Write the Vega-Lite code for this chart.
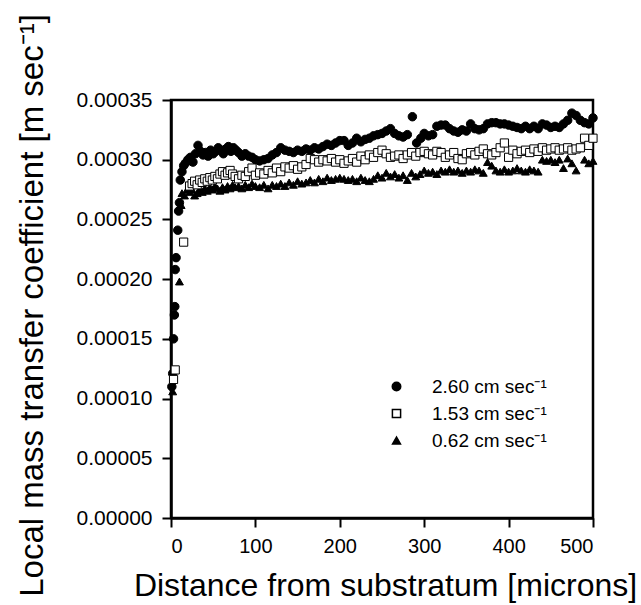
{
  "$schema": "https://vega.github.io/schema/vega-lite/v6.json",
  "width": 422,
  "height": 418,
  "autosize": {"type": "none"},
  "padding": {"left": 171, "top": 100, "right": 48, "bottom": 87},
  "background": "white",
  "config": {
    "font": "Liberation Sans",
    "view": {"stroke": "black", "strokeWidth": 2.5},
    "axis": {"grid": false, "domainColor": "black", "domainWidth": 2.5, "tickColor": "black", "tickWidth": 2, "tickSize": 9, "labelColor": "black", "titleColor": "black", "labelFont": "Liberation Sans", "titleFont": "Liberation Sans", "titleFontWeight": "normal", "labelFontSize": 20, "titleFontSize": 32},
    "legend": {"labelFont": "Liberation Sans", "labelColor": "black", "title": null, "orient": "none", "legendX": 216, "legendY": 277, "padding": 0, "labelFontSize": 19, "labelOffset": 26, "rowPadding": 7}
  },
  "data": {"values": [
    {"d":1,"k":0.000110,"v":"2.60"},{"d":2,"k":0.000121,"v":"2.60"},{"d":3,"k":0.000150,"v":"2.60"},{"d":4,"k":0.000170,"v":"2.60"},{"d":4.5,"k":0.000177,"v":"2.60"},{"d":5,"k":0.000208,"v":"2.60"},{"d":6,"k":0.000218,"v":"2.60"},{"d":8,"k":0.000241,"v":"2.60"},{"d":9,"k":0.000257,"v":"2.60"},{"d":10,"k":0.000264,"v":"2.60"},{"d":11,"k":0.000283,"v":"2.60"},{"d":13,"k":0.000290,"v":"2.60"},{"d":15,"k":0.000295,"v":"2.60"},{"d":17,"k":0.000297,"v":"2.60"},{"d":20,"k":0.000300,"v":"2.60"},{"d":23,"k":0.000302,"v":"2.60"},{"d":26,"k":0.000298,"v":"2.60"},{"d":29,"k":0.000305,"v":"2.60"},{"d":32,"k":0.000312,"v":"2.60"},{"d":35,"k":0.000307,"v":"2.60"},{"d":38,"k":0.000304,"v":"2.60"},{"d":41,"k":0.000306,"v":"2.60"},{"d":44,"k":0.000303,"v":"2.60"},{"d":47,"k":0.000308,"v":"2.60"},{"d":50,"k":0.000305,"v":"2.60"},{"d":53,"k":0.000307,"v":"2.60"},{"d":56,"k":0.000310,"v":"2.60"},{"d":59,"k":0.000308,"v":"2.60"},{"d":62,"k":0.000305,"v":"2.60"},{"d":65,"k":0.000309,"v":"2.60"},{"d":68,"k":0.000311,"v":"2.60"},{"d":71,"k":0.000307,"v":"2.60"},{"d":74,"k":0.000310,"v":"2.60"},{"d":77,"k":0.000308,"v":"2.60"},{"d":80,"k":0.000306,"v":"2.60"},{"d":84,"k":0.000303,"v":"2.60"},{"d":88,"k":0.000305,"v":"2.60"},{"d":92,"k":0.000303,"v":"2.60"},{"d":96,"k":0.000302,"v":"2.60"},{"d":100,"k":0.000300,"v":"2.60"},{"d":105,"k":0.000299,"v":"2.60"},{"d":110,"k":0.000300,"v":"2.60"},{"d":115,"k":0.000301,"v":"2.60"},{"d":120,"k":0.000304,"v":"2.60"},{"d":125,"k":0.000306,"v":"2.60"},{"d":130,"k":0.000310,"v":"2.60"},{"d":135,"k":0.000308,"v":"2.60"},{"d":140,"k":0.000307,"v":"2.60"},{"d":145,"k":0.000306,"v":"2.60"},{"d":150,"k":0.000308,"v":"2.60"},{"d":155,"k":0.000307,"v":"2.60"},{"d":160,"k":0.000309,"v":"2.60"},{"d":165,"k":0.000308,"v":"2.60"},{"d":170,"k":0.000310,"v":"2.60"},{"d":175,"k":0.000309,"v":"2.60"},{"d":180,"k":0.000311,"v":"2.60"},{"d":185,"k":0.000313,"v":"2.60"},{"d":190,"k":0.000312,"v":"2.60"},{"d":195,"k":0.000314,"v":"2.60"},{"d":200,"k":0.000316,"v":"2.60"},{"d":205,"k":0.000316,"v":"2.60"},{"d":210,"k":0.000312,"v":"2.60"},{"d":215,"k":0.000314,"v":"2.60"},{"d":220,"k":0.000318,"v":"2.60"},{"d":225,"k":0.000315,"v":"2.60"},{"d":230,"k":0.000317,"v":"2.60"},{"d":235,"k":0.000318,"v":"2.60"},{"d":240,"k":0.000320,"v":"2.60"},{"d":245,"k":0.000321,"v":"2.60"},{"d":250,"k":0.000322,"v":"2.60"},{"d":255,"k":0.000324,"v":"2.60"},{"d":260,"k":0.000326,"v":"2.60"},{"d":265,"k":0.000322,"v":"2.60"},{"d":270,"k":0.000320,"v":"2.60"},{"d":275,"k":0.000319,"v":"2.60"},{"d":280,"k":0.000321,"v":"2.60"},{"d":286,"k":0.000336,"v":"2.60"},{"d":291,"k":0.000314,"v":"2.60"},{"d":296,"k":0.000318,"v":"2.60"},{"d":300,"k":0.000322,"v":"2.60"},{"d":305,"k":0.000320,"v":"2.60"},{"d":310,"k":0.000321,"v":"2.60"},{"d":315,"k":0.000328,"v":"2.60"},{"d":320,"k":0.000329,"v":"2.60"},{"d":325,"k":0.000329,"v":"2.60"},{"d":330,"k":0.000326,"v":"2.60"},{"d":335,"k":0.000324,"v":"2.60"},{"d":340,"k":0.000323,"v":"2.60"},{"d":345,"k":0.000325,"v":"2.60"},{"d":350,"k":0.000324,"v":"2.60"},{"d":355,"k":0.000330,"v":"2.60"},{"d":360,"k":0.000326,"v":"2.60"},{"d":365,"k":0.000325,"v":"2.60"},{"d":370,"k":0.000326,"v":"2.60"},{"d":375,"k":0.000330,"v":"2.60"},{"d":380,"k":0.000331,"v":"2.60"},{"d":385,"k":0.000331,"v":"2.60"},{"d":390,"k":0.000330,"v":"2.60"},{"d":395,"k":0.000330,"v":"2.60"},{"d":400,"k":0.000329,"v":"2.60"},{"d":405,"k":0.000328,"v":"2.60"},{"d":410,"k":0.000327,"v":"2.60"},{"d":415,"k":0.000326,"v":"2.60"},{"d":420,"k":0.000328,"v":"2.60"},{"d":425,"k":0.000326,"v":"2.60"},{"d":430,"k":0.000328,"v":"2.60"},{"d":435,"k":0.000326,"v":"2.60"},{"d":440,"k":0.000330,"v":"2.60"},{"d":445,"k":0.000329,"v":"2.60"},{"d":450,"k":0.000327,"v":"2.60"},{"d":455,"k":0.000328,"v":"2.60"},{"d":460,"k":0.000327,"v":"2.60"},{"d":465,"k":0.000330,"v":"2.60"},{"d":470,"k":0.000333,"v":"2.60"},{"d":475,"k":0.000339,"v":"2.60"},{"d":480,"k":0.000337,"v":"2.60"},{"d":485,"k":0.000333,"v":"2.60"},{"d":490,"k":0.000331,"v":"2.60"},{"d":495,"k":0.000330,"v":"2.60"},{"d":500,"k":0.000335,"v":"2.60"},

    {"d":2,"k":0.000106,"v":"0.62"},{"d":10,"k":0.000198,"v":"0.62"},{"d":12,"k":0.000262,"v":"0.62"},{"d":13,"k":0.000272,"v":"0.62"},{"d":16,"k":0.000270,"v":"0.62"},{"d":19,"k":0.000275,"v":"0.62"},{"d":22,"k":0.000273,"v":"0.62"},{"d":25,"k":0.000275,"v":"0.62"},{"d":28,"k":0.000270,"v":"0.62"},{"d":31,"k":0.000272,"v":"0.62"},{"d":34,"k":0.000275,"v":"0.62"},{"d":37,"k":0.000273,"v":"0.62"},{"d":40,"k":0.000276,"v":"0.62"},{"d":43,"k":0.000274,"v":"0.62"},{"d":46,"k":0.000277,"v":"0.62"},{"d":49,"k":0.000275,"v":"0.62"},{"d":52,"k":0.000278,"v":"0.62"},{"d":55,"k":0.000276,"v":"0.62"},{"d":58,"k":0.000274,"v":"0.62"},{"d":61,"k":0.000277,"v":"0.62"},{"d":64,"k":0.000275,"v":"0.62"},{"d":67,"k":0.000278,"v":"0.62"},{"d":70,"k":0.000276,"v":"0.62"},{"d":73,"k":0.000279,"v":"0.62"},{"d":76,"k":0.000277,"v":"0.62"},{"d":80,"k":0.000278,"v":"0.62"},{"d":84,"k":0.000276,"v":"0.62"},{"d":88,"k":0.000279,"v":"0.62"},{"d":92,"k":0.000277,"v":"0.62"},{"d":96,"k":0.000280,"v":"0.62"},{"d":100,"k":0.000278,"v":"0.62"},{"d":105,"k":0.000277,"v":"0.62"},{"d":110,"k":0.000279,"v":"0.62"},{"d":115,"k":0.000276,"v":"0.62"},{"d":120,"k":0.000279,"v":"0.62"},{"d":125,"k":0.000278,"v":"0.62"},{"d":130,"k":0.000280,"v":"0.62"},{"d":135,"k":0.000278,"v":"0.62"},{"d":140,"k":0.000281,"v":"0.62"},{"d":145,"k":0.000279,"v":"0.62"},{"d":150,"k":0.000282,"v":"0.62"},{"d":155,"k":0.000280,"v":"0.62"},{"d":160,"k":0.000281,"v":"0.62"},{"d":165,"k":0.000283,"v":"0.62"},{"d":170,"k":0.000281,"v":"0.62"},{"d":175,"k":0.000284,"v":"0.62"},{"d":180,"k":0.000282,"v":"0.62"},{"d":185,"k":0.000285,"v":"0.62"},{"d":190,"k":0.000283,"v":"0.62"},{"d":195,"k":0.000284,"v":"0.62"},{"d":200,"k":0.000285,"v":"0.62"},{"d":205,"k":0.000284,"v":"0.62"},{"d":210,"k":0.000283,"v":"0.62"},{"d":215,"k":0.000284,"v":"0.62"},{"d":220,"k":0.000282,"v":"0.62"},{"d":225,"k":0.000285,"v":"0.62"},{"d":230,"k":0.000283,"v":"0.62"},{"d":235,"k":0.000282,"v":"0.62"},{"d":240,"k":0.000284,"v":"0.62"},{"d":245,"k":0.000287,"v":"0.62"},{"d":250,"k":0.000285,"v":"0.62"},{"d":255,"k":0.000289,"v":"0.62"},{"d":260,"k":0.000286,"v":"0.62"},{"d":265,"k":0.000288,"v":"0.62"},{"d":270,"k":0.000285,"v":"0.62"},{"d":275,"k":0.000287,"v":"0.62"},{"d":280,"k":0.000283,"v":"0.62"},{"d":285,"k":0.000289,"v":"0.62"},{"d":290,"k":0.000286,"v":"0.62"},{"d":295,"k":0.000288,"v":"0.62"},{"d":300,"k":0.000291,"v":"0.62"},{"d":305,"k":0.000289,"v":"0.62"},{"d":310,"k":0.000290,"v":"0.62"},{"d":315,"k":0.000288,"v":"0.62"},{"d":320,"k":0.000291,"v":"0.62"},{"d":325,"k":0.000290,"v":"0.62"},{"d":330,"k":0.000292,"v":"0.62"},{"d":335,"k":0.000290,"v":"0.62"},{"d":340,"k":0.000291,"v":"0.62"},{"d":345,"k":0.000289,"v":"0.62"},{"d":350,"k":0.000291,"v":"0.62"},{"d":355,"k":0.000290,"v":"0.62"},{"d":360,"k":0.000292,"v":"0.62"},{"d":365,"k":0.000291,"v":"0.62"},{"d":370,"k":0.000289,"v":"0.62"},{"d":375,"k":0.000298,"v":"0.62"},{"d":380,"k":0.000295,"v":"0.62"},{"d":385,"k":0.000291,"v":"0.62"},{"d":390,"k":0.000290,"v":"0.62"},{"d":395,"k":0.000292,"v":"0.62"},{"d":400,"k":0.000290,"v":"0.62"},{"d":405,"k":0.000291,"v":"0.62"},{"d":410,"k":0.000293,"v":"0.62"},{"d":415,"k":0.000291,"v":"0.62"},{"d":420,"k":0.000290,"v":"0.62"},{"d":425,"k":0.000292,"v":"0.62"},{"d":430,"k":0.000291,"v":"0.62"},{"d":435,"k":0.000290,"v":"0.62"},{"d":440,"k":0.000300,"v":"0.62"},{"d":445,"k":0.000299,"v":"0.62"},{"d":450,"k":0.000300,"v":"0.62"},{"d":455,"k":0.000298,"v":"0.62"},{"d":460,"k":0.000300,"v":"0.62"},{"d":465,"k":0.000293,"v":"0.62"},{"d":470,"k":0.000301,"v":"0.62"},{"d":475,"k":0.000297,"v":"0.62"},{"d":480,"k":0.000291,"v":"0.62"},{"d":485,"k":0.000310,"v":"0.62"},{"d":490,"k":0.000300,"v":"0.62"},{"d":495,"k":0.000297,"v":"0.62"},{"d":500,"k":0.000299,"v":"0.62"},

    {"d":3,"k":0.000116,"v":"1.53"},{"d":5,"k":0.000124,"v":"1.53"},{"d":15,"k":0.000231,"v":"1.53"},{"d":22,"k":0.000278,"v":"1.53"},{"d":25,"k":0.000280,"v":"1.53"},{"d":28,"k":0.000282,"v":"1.53"},{"d":31,"k":0.000279,"v":"1.53"},{"d":34,"k":0.000283,"v":"1.53"},{"d":37,"k":0.000281,"v":"1.53"},{"d":40,"k":0.000284,"v":"1.53"},{"d":43,"k":0.000282,"v":"1.53"},{"d":46,"k":0.000285,"v":"1.53"},{"d":49,"k":0.000283,"v":"1.53"},{"d":52,"k":0.000286,"v":"1.53"},{"d":55,"k":0.000284,"v":"1.53"},{"d":58,"k":0.000288,"v":"1.53"},{"d":61,"k":0.000290,"v":"1.53"},{"d":64,"k":0.000287,"v":"1.53"},{"d":67,"k":0.000289,"v":"1.53"},{"d":70,"k":0.000291,"v":"1.53"},{"d":73,"k":0.000288,"v":"1.53"},{"d":76,"k":0.000286,"v":"1.53"},{"d":80,"k":0.000284,"v":"1.53"},{"d":84,"k":0.000287,"v":"1.53"},{"d":88,"k":0.000286,"v":"1.53"},{"d":92,"k":0.000290,"v":"1.53"},{"d":96,"k":0.000293,"v":"1.53"},{"d":100,"k":0.000287,"v":"1.53"},{"d":105,"k":0.000289,"v":"1.53"},{"d":110,"k":0.000288,"v":"1.53"},{"d":115,"k":0.000291,"v":"1.53"},{"d":120,"k":0.000289,"v":"1.53"},{"d":125,"k":0.000293,"v":"1.53"},{"d":130,"k":0.000290,"v":"1.53"},{"d":135,"k":0.000294,"v":"1.53"},{"d":140,"k":0.000293,"v":"1.53"},{"d":145,"k":0.000295,"v":"1.53"},{"d":150,"k":0.000292,"v":"1.53"},{"d":155,"k":0.000294,"v":"1.53"},{"d":160,"k":0.000296,"v":"1.53"},{"d":165,"k":0.000301,"v":"1.53"},{"d":170,"k":0.000300,"v":"1.53"},{"d":175,"k":0.000298,"v":"1.53"},{"d":180,"k":0.000300,"v":"1.53"},{"d":185,"k":0.000299,"v":"1.53"},{"d":190,"k":0.000301,"v":"1.53"},{"d":195,"k":0.000298,"v":"1.53"},{"d":200,"k":0.000300,"v":"1.53"},{"d":205,"k":0.000297,"v":"1.53"},{"d":210,"k":0.000299,"v":"1.53"},{"d":215,"k":0.000301,"v":"1.53"},{"d":220,"k":0.000298,"v":"1.53"},{"d":225,"k":0.000303,"v":"1.53"},{"d":230,"k":0.000300,"v":"1.53"},{"d":235,"k":0.000304,"v":"1.53"},{"d":240,"k":0.000302,"v":"1.53"},{"d":245,"k":0.000306,"v":"1.53"},{"d":250,"k":0.000308,"v":"1.53"},{"d":255,"k":0.000305,"v":"1.53"},{"d":260,"k":0.000302,"v":"1.53"},{"d":265,"k":0.000303,"v":"1.53"},{"d":270,"k":0.000304,"v":"1.53"},{"d":275,"k":0.000301,"v":"1.53"},{"d":280,"k":0.000304,"v":"1.53"},{"d":285,"k":0.000306,"v":"1.53"},{"d":290,"k":0.000303,"v":"1.53"},{"d":295,"k":0.000306,"v":"1.53"},{"d":300,"k":0.000307,"v":"1.53"},{"d":305,"k":0.000305,"v":"1.53"},{"d":310,"k":0.000304,"v":"1.53"},{"d":315,"k":0.000307,"v":"1.53"},{"d":320,"k":0.000306,"v":"1.53"},{"d":325,"k":0.000302,"v":"1.53"},{"d":330,"k":0.000304,"v":"1.53"},{"d":335,"k":0.000306,"v":"1.53"},{"d":340,"k":0.000301,"v":"1.53"},{"d":345,"k":0.000300,"v":"1.53"},{"d":350,"k":0.000305,"v":"1.53"},{"d":355,"k":0.000306,"v":"1.53"},{"d":360,"k":0.000304,"v":"1.53"},{"d":365,"k":0.000307,"v":"1.53"},{"d":370,"k":0.000309,"v":"1.53"},{"d":375,"k":0.000305,"v":"1.53"},{"d":380,"k":0.000304,"v":"1.53"},{"d":385,"k":0.000306,"v":"1.53"},{"d":390,"k":0.000310,"v":"1.53"},{"d":395,"k":0.000314,"v":"1.53"},{"d":400,"k":0.000302,"v":"1.53"},{"d":405,"k":0.000308,"v":"1.53"},{"d":410,"k":0.000305,"v":"1.53"},{"d":415,"k":0.000307,"v":"1.53"},{"d":420,"k":0.000308,"v":"1.53"},{"d":425,"k":0.000306,"v":"1.53"},{"d":430,"k":0.000309,"v":"1.53"},{"d":435,"k":0.000307,"v":"1.53"},{"d":440,"k":0.000310,"v":"1.53"},{"d":445,"k":0.000308,"v":"1.53"},{"d":450,"k":0.000309,"v":"1.53"},{"d":455,"k":0.000310,"v":"1.53"},{"d":460,"k":0.000308,"v":"1.53"},{"d":465,"k":0.000309,"v":"1.53"},{"d":470,"k":0.000310,"v":"1.53"},{"d":475,"k":0.000308,"v":"1.53"},{"d":480,"k":0.000309,"v":"1.53"},{"d":485,"k":0.000310,"v":"1.53"},{"d":490,"k":0.000318,"v":"1.53"},{"d":495,"k":0.000312,"v":"1.53"},{"d":500,"k":0.000318,"v":"1.53"}
  ]},
  "mark": {"type": "point", "filled": true, "stroke": "black", "strokeWidth": 1, "opacity": 1},
  "encoding": {
    "x": {"field": "d", "type": "quantitative", "scale": {"domain": [0, 500], "nice": false},
      "axis": {"values": [0, 100, 200, 300, 400, 500], "title": "Distance from substratum [microns]", "labelPadding": 9, "titleX": 214, "titleY": 77, "titleAnchor": null, "titleAlign": "center", "titleBaseline": "alphabetic"}},
    "y": {"field": "k", "type": "quantitative", "scale": {"domain": [0, 0.00035], "nice": false},
      "axis": {"values": [0, 0.00005, 0.0001, 0.00015, 0.0002, 0.00025, 0.0003, 0.00035], "format": ".5f", "labelPadding": 10, "labelFontSize": 21, "titleFontSize": 33, "title": "Local mass transfer coefficient [m sec⁻¹]", "titleAngle": 270, "titleX": -129, "titleY": 205, "titleAlign": "center", "titleBaseline": "alphabetic"}},
    "size": {"field": "v", "type": "nominal", "scale": {"domain": ["2.60", "1.53", "0.62"], "range": [72, 62, 95]},
      "legend": {"labelExpr": "datum.label + ' cm sec⁻¹'", "encode": {"symbols": {"update": {"size": {"value": 40}, "stroke": {"value": "black"}, "strokeWidth": {"value": 1}}}}}},
    "shape": {"field": "v", "type": "nominal", "scale": {"domain": ["2.60", "1.53", "0.62"], "range": ["circle", "square", "triangle-up"]},
      "legend": {"labelExpr": "datum.label + ' cm sec⁻¹'", "encode": {"symbols": {"update": {"size": {"value": 40}, "stroke": {"value": "black"}, "strokeWidth": {"value": 1}}}}}},
    "fill": {"field": "v", "type": "nominal", "scale": {"domain": ["2.60", "1.53", "0.62"], "range": ["black", "white", "black"]},
      "legend": {"labelExpr": "datum.label + ' cm sec⁻¹'", "encode": {"symbols": {"update": {"size": {"value": 40}, "stroke": {"value": "black"}, "strokeWidth": {"value": 1}}}}}}
  }
}
